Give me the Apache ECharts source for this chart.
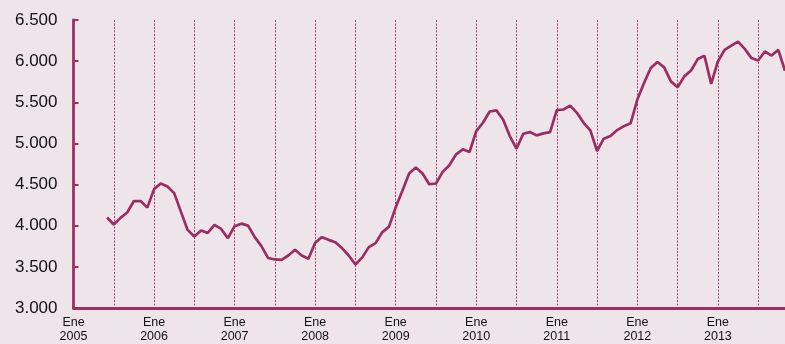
<!DOCTYPE html>
<html>
<head>
<meta charset="utf-8">
<script src="https://cdn.jsdelivr.net/npm/echarts@6/dist/echarts.min.js"></script>
<style>
html,body{margin:0;padding:0;background:#eee5eb;}
#c{width:785px;height:344px;}
</style>
</head>
<body>
<div id="c"></div>
<script>
const monthNames = ['Ene','Feb','Mar','Abr','May','Jun','Jul','Ago','Sep','Oct','Nov','Dic'];
const years = [2005,2006,2007,2008,2009,2010,2011,2012,2013];
const monthCount = 107; // Ene 2005 .. Nov 2013
const yTicks = [3000, 3500, 4000, 4500, 5000, 5500, 6000, 6500];

// monthly values, Ene 2005 .. Nov 2013 (null = no data)
const values = [
  null, null, null, null, null,
  4100, 4015, 4095, 4160, 4300, 4300, 4220,           // Jun-Dic 2005
  4445, 4513, 4477, 4396, 4171, 3949, 3868, 3941, 3913, 4010, 3961, 3849, // 2006
  3994, 4025, 4001, 3861, 3752, 3607, 3590, 3586, 3638, 3707, 3638, 3598, // 2007
  3792, 3861, 3828, 3800, 3728, 3638, 3528, 3612, 3740, 3788, 3921, 3989, // 2008
  4223, 4424, 4634, 4707, 4634, 4505, 4513, 4654, 4735, 4868, 4928, 4896, // 2009
  5150, 5251, 5388, 5402, 5291, 5089, 4937, 5118, 5138, 5098, 5122, 5138, // 2010
  5404, 5412, 5460, 5372, 5251, 5158, 4908, 5058, 5089, 5162, 5210, 5245, // 2011
  5533, 5735, 5916, 5989, 5924, 5754, 5682, 5815, 5887, 6025, 6065, 5723, // 2012
  5996, 6137, 6189, 6238, 6150, 6037, 6008, 6117, 6068, 6137, 5883        // Ene-Nov 2013
];

const categories = [];
for (let i = 0; i < monthCount; i++) {
  categories.push(monthNames[i % 12] + '\n' + years[Math.floor(i / 12)]);
}

const axisColor = '#9e2f64';
const chart = echarts.init(document.getElementById('c'), null, {renderer: 'canvas'});
chart.setOption({
  backgroundColor: '#eee5eb',
  animation: false,
  grid: {left: 73.5, right: 0, top: 20, bottom: 34.5, containLabel: false},
  xAxis: {
    type: 'category',
    data: categories,
    boundaryGap: false,
    axisLine: {show: true, lineStyle: {color: axisColor, width: 2.8}},
    axisTick: {show: false},
    axisLabel: {
      interval: function (idx) { return idx % 12 === 0; },
      color: '#111111',
      fontFamily: 'Liberation Sans, Arial, sans-serif',
      fontSize: 12.5,
      lineHeight: 14,
      margin: 8
    },
    splitLine: {
      show: true,
      interval: function (idx) { return idx % 6 === 0; },
      lineStyle: {color: '#ab3d75', width: 1, type: [2, 1.5]}
    }
  },
  yAxis: {
    type: 'value',
    min: 3000,
    max: 6500,
    interval: 500,
    axisLine: {show: true, lineStyle: {color: axisColor, width: 2.8}},
    axisTick: {show: true, inside: true, length: 5, lineStyle: {color: axisColor, width: 2}},
    splitLine: {show: false},
    axisLabel: {
      color: '#111111',
      fontFamily: 'Liberation Sans, Arial, sans-serif',
      fontSize: 17,
      margin: 16,
      formatter: function (v) { return yTicks.indexOf(v) >= 0 ? String(v).replace(/\B(?=(\d{3})+(?!\d))/g, '.') : ''; }
    }
  },
  series: [{
    type: 'line',
    data: values,
    showSymbol: false,
    connectNulls: false,
    lineStyle: {color: '#9b2d62', width: 2.7},
    itemStyle: {color: '#9b2d62'},
    z: 3
  }]
});
</script>
</body>
</html>
